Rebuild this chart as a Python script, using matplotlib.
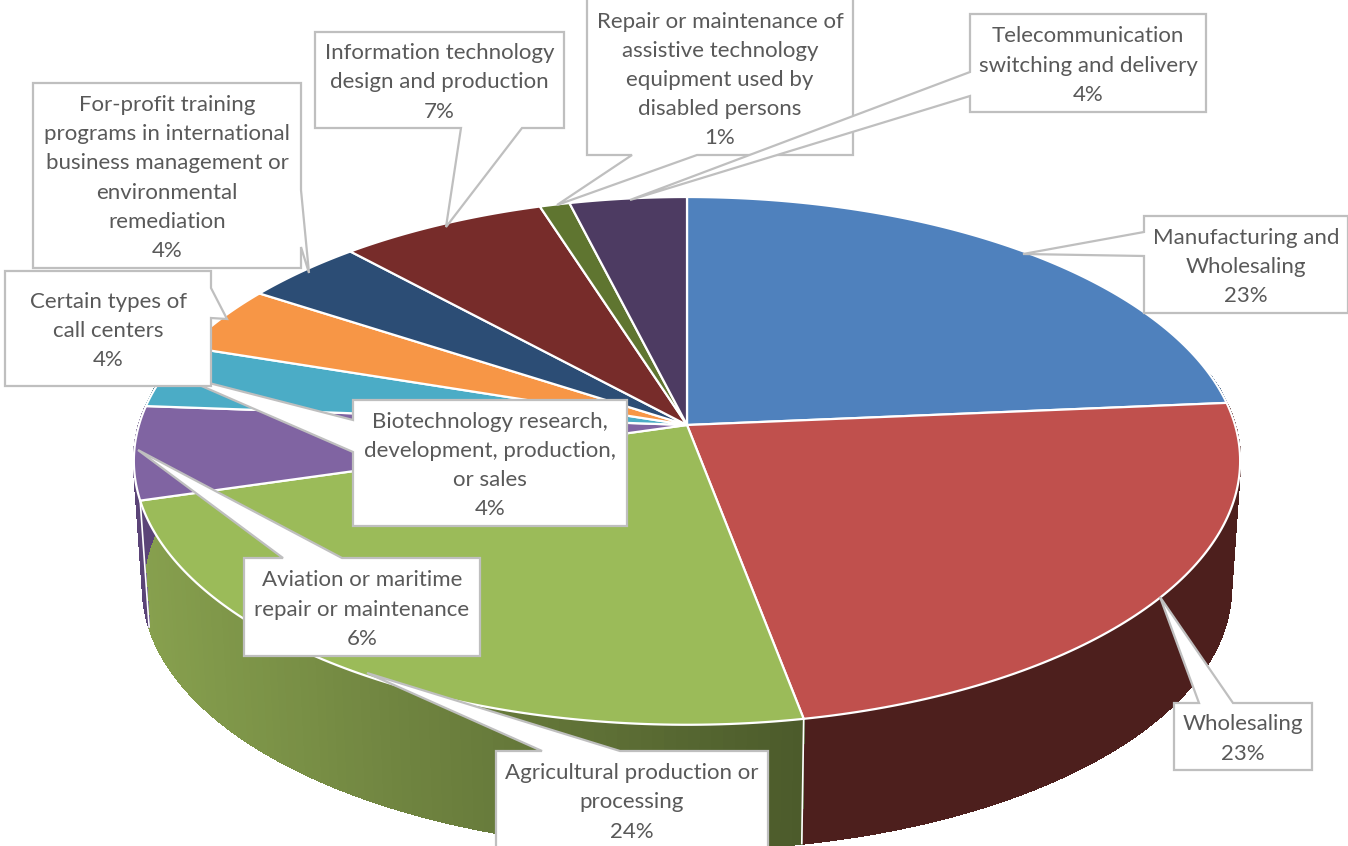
import numpy as np
from matplotlib import pyplot as plt
from matplotlib.collections import PolyCollection
from matplotlib.colors import to_rgb
from matplotlib.patches import Polygon

# data, clockwise from 12 o'clock
names = [
    'Manufacturing and\nWholesaling',
    'Wholesaling',
    'Agricultural production or\nprocessing',
    'Aviation or maritime\nrepair or maintenance',
    'Biotechnology research,\ndevelopment, production,\nor sales',
    'Certain types of\ncall centers',
    'For-profit training\nprograms in international\nbusiness management or\nenvironmental\nremediation',
    'Information technology\ndesign and production',
    'Repair or maintenance of\nassistive technology\nequipment used by\ndisabled persons',
    'Telecommunication\nswitching and delivery',
]
shares = [23.6, 23.4, 23.4, 5.7, 3.9, 4.1, 4.0, 6.9, 1.0, 3.9]
pct_labels = ['23%', '23%', '24%', '6%', '4%', '4%', '4%', '7%', '1%', '4%']

top_colors = ['#4F81BD', '#C0504D', '#9BBB59', '#8064A2', '#4BACC6',
              '#F79646', '#2C4D75', '#772C2A', '#5F7530', '#4D3B62']
side_from = ['#2C4D75', '#4D1F1D', '#4C5B2B', '#5B4478', '#2C6475',
             '#8F5728', '#1A2D44', '#451A18', '#37441C', '#2D2239']
side_to = ['#2C4D75', '#4D1F1D', '#87A04E', '#5B4478', '#2C6475',
           '#8F5728', '#1A2D44', '#451A18', '#37441C', '#2D2239']

# callout layout in pixels: box, edge with the pointer, pointer base, tip
boxes = [(1144, 216, 1348, 313), (1174, 703, 1312, 770), (496, 751, 768, 860),
         (244, 558, 480, 656), (353, 400, 627, 526), (5, 271, 211, 386),
         (33, 83, 301, 268), (315, 32, 564, 128), (587, -3, 853, 155),
         (970, 14, 1206, 112)]
edges = ['left', 'top', 'top', 'top', 'left', 'right', 'right', 'bottom', 'bottom', 'left']
bases = [(232, 256), (1199, 1233), (542, 620), (283, 342), (420, 452),
         (288, 318), (190, 247), (461, 522), (632, 697), (72, 96)]
tips = [(1023, 254), (1160, 597), (367, 673), (138, 450), (174, 374),
        (227, 319), (309, 273), (446, 227), (557, 205), (630, 200)]

plt.rcParams['font.family'] = ['Lato', 'DejaVu Sans']

W, H = 1348, 846
fig = plt.figure(figsize=(W / 100, H / 100), dpi=100)
ax = fig.add_axes([0, 0, 1, 1])
ax.set_xlim(0, W)
ax.set_ylim(H, 0)
ax.axis('off')


def project(theta, x0, y0, a, b, k=0.136):
    u, v = np.sin(theta), np.cos(theta)
    w = 1 + k * v
    return x0 + a * u / w, y0 - b * v / w


def top_xy(theta):
    return project(theta, 687, 425, 548, 259)


def bottom_xy(theta):
    return project(theta, 687, 552, 539, 257)


edges_deg = np.concatenate([[0], np.cumsum(shares)]) / np.sum(shares) * 360

# side of the disc first, the top goes over it
for i in range(len(shares)):
    th = np.radians(np.linspace(edges_deg[i], edges_deg[i + 1], 80))
    tx, ty = top_xy(th)
    bx, by = bottom_xy(th)
    c1, c2 = np.array(to_rgb(side_from[i])), np.array(to_rgb(side_to[i]))
    quads = []
    cols = []
    for j in range(len(th) - 1):
        # back of the disc cannot be seen
        if np.cos(th[j]) > 0.2:
            continue
        quads.append([(tx[j], ty[j]), (tx[j + 1], ty[j + 1]),
                      (bx[j + 1], by[j + 1]), (bx[j], by[j])])
        # shading runs across the picture, not round the disc
        t = (bx[j] - bx[0]) / (bx[-1] - bx[0])
        cols.append(tuple(c1 + (c2 - c1) * t))
    if quads:
        ax.add_collection(PolyCollection(quads, facecolors=cols, edgecolors=cols, linewidths=1,
                                         antialiaseds=False, zorder=1))
        ax.plot(bx[np.cos(th) < 0.2], by[np.cos(th) < 0.2], color='#E4E4E4', lw=1, zorder=0.5)
    if np.cos(th[0]) < 0:
        ax.plot([tx[0], bx[0]], [ty[0], by[0]], color='white', lw=1.2, zorder=2)

for i in range(len(shares)):
    th = np.radians(np.linspace(edges_deg[i], edges_deg[i + 1], 100))
    tx, ty = top_xy(th)
    pts = [(687, 425)] + list(zip(tx, ty))
    ax.add_patch(Polygon(pts, closed=True, facecolor=top_colors[i], edgecolor='white',
                         lw=1.6, joinstyle='round', zorder=3))


def callout(box, edge, base, tip):
    x0, y0, x1, y1 = box
    b0, b1 = min(base), max(base)
    pts = [(x0, y0)]
    if edge == 'top':
        pts += [(b0, y0), tip, (b1, y0)]
    pts.append((x1, y0))
    if edge == 'right':
        pts += [(x1, b0), tip, (x1, b1)]
    pts.append((x1, y1))
    if edge == 'bottom':
        pts += [(b1, y1), tip, (b0, y1)]
    pts.append((x0, y1))
    if edge == 'left':
        pts += [(x0, b1), tip, (x0, b0)]
    return pts


for i in range(len(names)):
    ax.add_patch(Polygon(callout(boxes[i], edges[i], bases[i], tips[i]), closed=True,
                         facecolor='white', edgecolor='#BFBFBF', lw=1.6, zorder=5 + i))
    x0, y0, x1, y1 = boxes[i]
    # two boxes run off the picture, so their text is not centred on the full box
    cy = min((y0 + y1) / 2, 800) if i == 2 else (max(y0, 0) + y1) / 2
    ax.text((x0 + min(x1, W)) / 2, cy + 2.5, names[i] + '\n' + pct_labels[i], ha='center', va='center',
            color='#595959', fontsize=16, linespacing=1.57, zorder=5 + i)

fig.savefig('out.png', dpi=100)
plt.close()
